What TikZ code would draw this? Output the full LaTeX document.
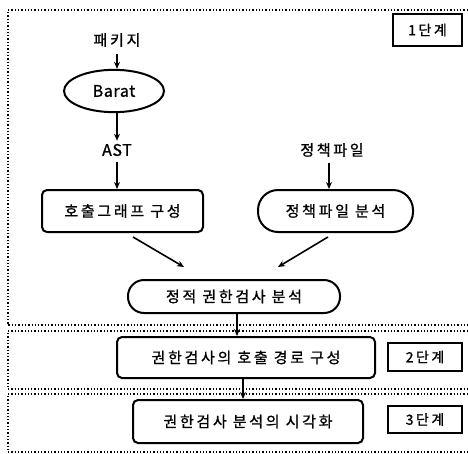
\documentclass[tikz,border=0pt]{standalone}
\usepackage{fontspec}
\setmainfont{Noto Sans CJK KR}[LetterSpace=18,FakeBold=1]
\usetikzlibrary{shapes.geometric,arrows.meta}
\begin{document}
\begin{tikzpicture}[x=1pt,y=-1pt,
  txt/.style={font=\fontsize{15}{17}\selectfont, inner sep=0pt},
  flow/.style={-{Stealth[length=7pt,width=6pt]}, line width=1.6pt},
  rbox/.style={draw, line width=2pt, rounded corners=5pt, font=\fontsize{15}{17}\selectfont, inner sep=0pt},
  stad/.style={draw, line width=2pt, rounded corners=20pt, font=\fontsize{15}{17}\selectfont, inner sep=0pt},
  stage/.style={draw, line width=2.2pt, font=\fontsize{14}{16}\selectfont, inner sep=0pt},
  frame/.style={dotted, line width=1.3pt}]
\useasboundingbox (0,0) rectangle (468,453);
% stage frames
\draw[frame] (468,10) -- (8,10) -- (8,325) -- (468,325);
\draw[frame] (468,331) -- (8,331) -- (8,389) -- (468,389);
\draw[frame] (468,394) -- (8,394) -- (8,452) -- (468,452);
% nodes
\node[txt] (pkg) at (117,40) {패키지};
\node[draw, ellipse, line width=2pt, inner xsep=14pt, inner ysep=9pt, minimum width=100pt,
      font=\fontsize{16}{18}\selectfont] (barat) at (114,91) {\addfontfeatures{LetterSpace=4}Barat};
\node[txt, font=\fontsize{16}{18}\selectfont] (ast) at (117,150) {\addfontfeatures{LetterSpace=4}AST};
\node[txt] (pol) at (332,150) {정책파일};
\node[rbox, minimum width=161pt, minimum height=42pt] (cg) at (122.5,211) {호출그래프 구성};
\node[stad, minimum width=155pt, minimum height=42pt] (pa) at (335.5,211) {정책파일 분석};
\node[stad, rounded corners=16pt, minimum width=212pt, minimum height=33pt] (st) at (234,296.5) {정적 권한검사 분석};
\node[rbox, minimum width=258pt, minimum height=41pt] (s2) at (246,357.5) {권한검사의 호출 경로 구성};
\node[rbox, minimum width=230pt, minimum height=43pt] (s3) at (248,421.5) {권한검사 분석의 시각화};
\node[stage, minimum width=69pt, minimum height=32pt] (l1) at (427.5,30) {1단계};
\node[stage, minimum width=74pt, minimum height=28pt] (l2) at (425,357) {2단계};
\node[stage, minimum width=74pt, minimum height=27pt] (l3) at (425,419.5) {3단계};
% connectors
\coordinate (a1s) at (133,237);
\coordinate (a1e) at (184,267);
\coordinate (a2s) at (328,237);
\coordinate (a2e) at (278,267);
\draw[flow] ([yshift=-7pt]pkg.south) -- (barat.north -| pkg.south);
\draw[flow] (barat.south -| ast.north) -- ([yshift=3pt]ast.north);
\draw[flow] ([yshift=-6pt]ast.south) -- (cg.north -| ast.south);
\draw[flow] ([yshift=-6pt]pol.south -| 329,0) -- (pa.north -| 329,0);
\draw[flow] (a1s) -- (a1e);
\draw[flow] (a2s) -- (a2e);
\draw[flow] (st.south -| 237,0) -- (s2.north -| 237,0);
\draw[flow] (s2.south -| 243,0) -- (s3.north -| 243,0);
\end{tikzpicture}
\end{document}
